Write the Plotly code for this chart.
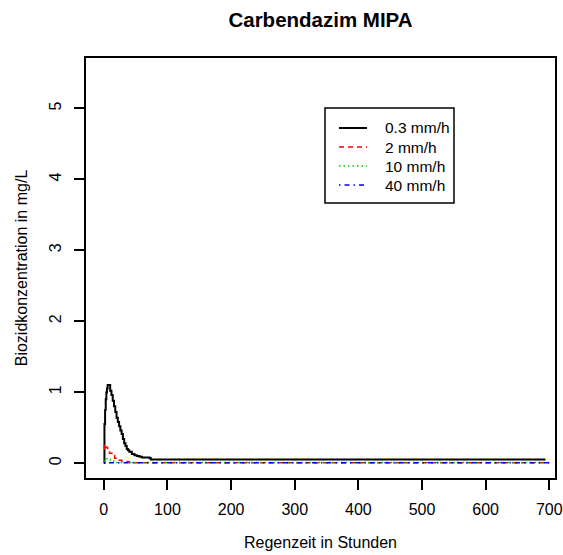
import plotly.graph_objects as go

# ---- data ----
t_03 = [0, 1, 2, 3, 4, 5, 6, 8, 10, 12, 14, 16, 18, 20, 22, 24, 26, 28, 30, 32, 34, 36,
        38, 40, 44, 48, 52, 56, 60, 66, 72, 74, 694]
c_03 = [0.0, 0.55, 0.75, 0.9, 1.0, 1.05, 1.1, 1.1, 1.02, 0.96, 0.88, 0.8, 0.72, 0.64,
        0.58, 0.52, 0.46, 0.41, 0.34, 0.28, 0.24, 0.2, 0.18, 0.16, 0.13, 0.11, 0.1,
        0.09, 0.08, 0.08, 0.07, 0.05, 0.05]

t_2 = [0, 1, 3, 6, 9, 13, 17, 22, 28, 33, 40, 700]
c_2 = [0.2, 0.27, 0.22, 0.18, 0.14, 0.11, 0.07, 0.04, 0.03, 0.02, 0.005, 0.005]

t_10 = [0, 2, 5, 10, 20, 700]
c_10 = [0.03, 0.06, 0.05, 0.03, 0.01, 0.01]

t_40 = [0, 5, 700]
c_40 = [0.01, 0.005, 0.005]

names = ["0.3 mm/h", "2 mm/h", "10 mm/h", "40 mm/h"]
colors = ["#000000", "#FF0000", "#00CD00", "#0000FF"]
dashes = ["solid", "5px,4px", "1.5px,3px", "1.5px,4px,5px,4px"]
widths = [2, 1.5, 1.5, 1.5]
series = [(t_03, c_03), (t_2, c_2), (t_10, c_10), (t_40, c_40)]

x_ticks = [0, 100, 200, 300, 400, 500, 600, 700]
y_ticks = [0, 1, 2, 3, 4, 5]

FONT = "Liberation Sans, Arial, sans-serif"
W, H = 563, 555
L, R, T, B = 86, 8, 58, 77
PW, PH = W - L - R, H - T - B


def px(x):
    return (x - L) / PW


def py(y):
    return (H - B - y) / PH


fig = go.Figure()
for (tx, cy), n, col, d, w in zip(series, names, colors, dashes, widths):
    fig.add_trace(go.Scatter(x=tx, y=cy, mode="lines", name=n, showlegend=False,
                             line=dict(color=col, dash=d, width=w, shape="hv")))

fig.update_layout(
    width=W, height=H,
    margin=dict(l=L, r=R, t=T, b=B, autoexpand=False),
    plot_bgcolor="white", paper_bgcolor="white",
    font=dict(family=FONT, size=16, color="black"),
    title=dict(text="<b>Carbendazim MIPA</b>", x=(L + W - R) / 2 / W, xanchor="center",
               y=1 - 20 / H, yanchor="middle", font=dict(size=20.5, family=FONT)),
    showlegend=False,
)
fig.update_xaxes(range=[-28, 709], tickvals=x_ticks, showgrid=False, zeroline=False,
                 showline=True, linecolor="black", linewidth=1.5, mirror=True,
                 ticks="outside", ticklen=10, tickwidth=1.5, tickcolor="black",
                 ticklabelstandoff=6, automargin=False,
                 title=dict(text="Regenzeit in Stunden", standoff=20, font=dict(size=16)))
fig.update_yaxes(range=[-0.21, 5.71], tickvals=y_ticks, showgrid=False, zeroline=False,
                 showline=True, linecolor="black", linewidth=1.5, mirror=True,
                 ticks="outside", ticklen=10, tickwidth=1.5, tickcolor="black",
                 tickangle=-90, ticklabelstandoff=7, automargin=False,
                 title=dict(text="Biozidkonzentration in mg/L", standoff=15, font=dict(size=16)))

# legend (frame, line samples, labels)
fig.add_shape(type="rect", xref="paper", yref="paper",
              x0=px(325), x1=px(454), y0=py(203), y1=py(108),
              line=dict(color="black", width=1.5))
leg_y = [128, 147, 166, 185]
for n, col, d, w, yy in zip(names, colors, dashes, widths, leg_y):
    fig.add_shape(type="line", xref="paper", yref="paper",
                  x0=px(339), x1=px(367), y0=py(yy), y1=py(yy),
                  line=dict(color=col, dash=d, width=w))
    fig.add_annotation(text=n, xref="paper", yref="paper", x=px(383), y=py(yy),
                       xanchor="left", yanchor="middle", showarrow=False,
                       font=dict(size=15.5, family=FONT, color="black"))

fig.write_html("out.html")
